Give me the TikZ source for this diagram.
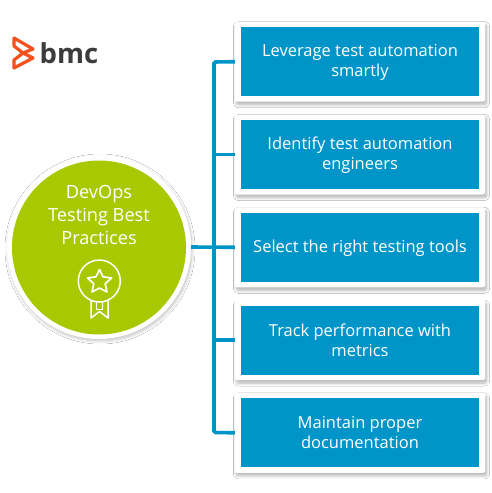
\documentclass[tikz,border=0pt]{standalone}
\usepackage{fontspec}
\setmainfont{Open Sans}
\usetikzlibrary{shadows.blur}
\definecolor{tealblue}{HTML}{0095C8}
\definecolor{limeg}{HTML}{A8C800}
\definecolor{bmcorange}{HTML}{F4511E}
\definecolor{bmcgray}{HTML}{3C3C3E}
\tikzset{
 x=1pt,y=-1pt,
 card/.style={fill=white,rounded corners=2pt,minimum width=250pt,minimum height=80pt,inner sep=0pt,blur shadow={shadow xshift=1.5pt,shadow yshift=-3pt,shadow blur steps=10,shadow blur radius=3pt,shadow opacity=30}},
 tile/.style={fill=tealblue,minimum width=238pt,minimum height=69pt,inner sep=0pt},
 tilelabel/.style={text=white,align=center,inner sep=0pt,font=\fontsize{16.5}{20}\selectfont},
 conn/.style={draw=tealblue,line width=3.6pt,rounded corners=1.5pt},
 iconline/.style={draw=white,line width=1.5pt,line join=round},
 logoline/.style={draw=bmcorange,line width=3.2pt,line join=round},
}
\begin{document}
\begin{tikzpicture}
\useasboundingbox (0,0) rectangle (492,493);
\fill[white] (0,0) rectangle (492,493);
\coordinate (top) at (214,62);
\coordinate (bot) at (214,432.5);
\coordinate (mid) at (214,247);
\node[card] (c1) at (360,61.7) {};
\node[card] (c2) at (360,154.5) {};
\node[card] (c3) at (360,247.3) {};
\node[card] (c4) at (360,340) {};
\node[card] (c5) at (360,432.8) {};
\draw[conn] (c1.west) -- (top) -- (bot) -- (c5.west);
\node[circle,fill=white,minimum size=184pt,inner sep=0pt,blur shadow={shadow xshift=1pt,shadow yshift=-2pt,shadow blur steps=10,shadow blur radius=3pt,shadow opacity=24}] (hub) at (99,247) {};
\draw[conn] (hub.east) -- (c3.west);
\draw[conn] (mid |- c2.west) -- (c2.west);
\draw[conn] (mid |- c4.west) -- (c4.west);
\node[tile] (t1) at (360,61.7) {};
\node[tile] (t2) at (360,154.5) {};
\node[tile] (t3) at (360,247.3) {};
\node[tile] (t4) at (360,340) {};
\node[tile] (t5) at (360,432.8) {};
\node[tilelabel] (l1) at (360,62.7) {Leverage test automation\\smartly};
\node[tilelabel] (l2) at (360,155.5) {Identify test automation\\engineers};
\node[tilelabel] (l3) at (360,248) {Select the right testing tools};
\node[tilelabel] (l4) at (360,340.5) {Track performance with\\metrics};
\node[tilelabel] (l5) at (360,433) {Maintain proper\\documentation};
\node[circle,fill=limeg,minimum size=174pt,inner sep=0pt] (inner) at (99,247.5) {};
\node[text=white,align=center,font=\fontsize{18.2}{23}\selectfont] (title) at (99,215) {DevOps\\Testing Best\\Practices};
% medal icon
\draw[iconline] (99.3,281) circle (21);
\draw[iconline,line width=1.7pt] (99.5,269.5) -- (103,276.8) -- (111.5,278) -- (105.2,283.7) -- (107,292) -- (99.5,288) -- (92,292) -- (93.8,283.7) -- (87.5,278) -- (96,276.8) -- cycle;
\draw[iconline] (91,301) -- (91,318) -- (99.5,311.5) -- (108,318) -- (108,301);
\draw[draw=white,line width=1pt] (96.5,302) -- (96.5,309) -- (102.5,309) -- (102.5,302);
% logo
\draw[logoline] (14,38) -- (33,49) -- (23,53) -- (14,46) -- cycle;
\draw[logoline] (14,68) -- (33,58) -- (23,53) -- (14,60) -- cycle;
\node[text=bmcgray,anchor=west,inner sep=0pt,font=\bfseries\fontsize{27.5}{28}\selectfont] (logo) at (39.5,53) {bmc};
\end{tikzpicture}
\end{document}
